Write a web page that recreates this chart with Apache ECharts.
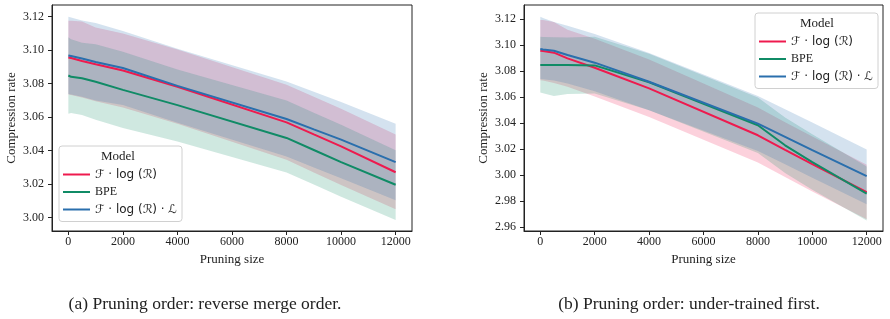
<!DOCTYPE html>
<html>
<head>
<meta charset="utf-8">
<script src="https://cdn.jsdelivr.net/npm/echarts@6/dist/echarts.min.js"></script>
<style>
  html, body { margin: 0; padding: 0; background: #fff; }
  #chart { width: 890px; height: 319px; }
</style>
</head>
<body>
<div id="chart"></div>
<script>
// pruning sizes sampled on both panels
const xs = [0, 100, 500, 1000, 2000, 4000, 8000, 9000, 10000, 12000];
const xTicks = [0, 2000, 4000, 6000, 8000, 10000, 12000];
const yTicksA = [3.00, 3.02, 3.04, 3.06, 3.08, 3.10, 3.12];
const yTicksB = [2.96, 2.98, 3.00, 3.02, 3.04, 3.06, 3.08, 3.10, 3.12];

const names = ['ℱ · log (ℛ)', 'BPE', 'ℱ · log (ℛ) · ℒ'];
const colors = ['#ee1a4e', '#108b66', '#2a6fad'];

// (a) reverse merge order
const aRed = [3.0956, 3.0953, 3.0936, 3.0916, 3.0879, 3.0782, 3.0569, 3.0497, 3.0426, 3.0271];
const aRedLo = [3.0736, 3.0732, 3.0718, 3.0695, 3.0658, 3.0560, 3.0345, 3.0270, 3.0195, 3.0050];
const aRedHi = [3.1176, 3.1176, 3.1172, 3.1135, 3.1100, 3.1004, 3.0793, 3.0722, 3.0650, 3.0496];
const aGreen = [3.0849, 3.0841, 3.0832, 3.0812, 3.0763, 3.0672, 3.0476, 3.0404, 3.0331, 3.0196];
const aGreenLo = [3.0620, 3.0625, 3.0613, 3.0585, 3.0535, 3.0455, 3.0270, 3.0198, 3.0125, 2.9985];
const aGreenHi = [3.1077, 3.1065, 3.1045, 3.1035, 3.0990, 3.0885, 3.0700, 3.0627, 3.0555, 3.0403];
const aBlue = [3.0968, 3.0965, 3.0950, 3.0930, 3.0894, 3.0787, 3.0589, 3.0527, 3.0466, 3.0331];
const aBlueLo = [3.0738, 3.0736, 3.0722, 3.0700, 3.0673, 3.0566, 3.0365, 3.0300, 3.0235, 3.0103];
const aBlueHi = [3.1200, 3.1196, 3.1178, 3.1162, 3.1115, 3.1008, 3.0813, 3.0752, 3.0690, 3.0561];

// (b) under-trained first
const bRed = [3.0958, 3.0956, 3.0943, 3.0899, 3.0827, 3.0668, 3.0307, 3.0195, 3.0085, 2.9870];
const bRedLo = [3.0730, 3.0728, 3.0710, 3.0680, 3.0605, 3.0448, 3.0097, 2.9985, 2.9875, 2.9660];
const bRedHi = [3.1195, 3.1195, 3.1180, 3.1120, 3.1050, 3.0890, 3.0520, 3.0408, 3.0298, 3.0080];
const bGreen = [3.0848, 3.0848, 3.0848, 3.0848, 3.0845, 3.0715, 3.0384, 3.0230, 3.0101, 2.9857];
const bGreenLo = [3.0637, 3.0630, 3.0610, 3.0625, 3.0628, 3.0500, 3.0170, 3.0016, 2.9888, 2.9650];
const bGreenHi = [3.1066, 3.1064, 3.1062, 3.1060, 3.1065, 3.0935, 3.0598, 3.0444, 3.0314, 3.0067];
const bBlue = [3.0971, 3.0968, 3.0958, 3.0925, 3.0866, 3.0719, 3.0397, 3.0295, 3.0192, 2.9993];
const bBlueLo = [3.0740, 3.0738, 3.0728, 3.0705, 3.0646, 3.0499, 3.0185, 3.0083, 2.9980, 2.9775];
const bBlueHi = [3.1220, 3.1210, 3.1180, 3.1150, 3.1086, 3.0940, 3.0610, 3.0508, 3.0405, 3.0197];

const serif = '"Liberation Serif", "DejaVu Serif", serif';
const ink = '#222';

function band(idx, lo, hi, color) {
    return {
        type: 'custom', name: 'band' + idx + color, xAxisIndex: idx, yAxisIndex: idx,
        data: [[xs[0], lo[0]]], silent: true, z: 1, clip: true,
        renderItem: function (params, api) {
            const pts = [];
            for (let i = 0; i < xs.length; i++) pts.push(api.coord([xs[i], hi[i]]));
            for (let i = xs.length - 1; i >= 0; i--) pts.push(api.coord([xs[i], lo[i]]));
            return { type: 'polygon', shape: { points: pts }, style: { fill: color, opacity: 0.2 } };
        }
    };
}

function line(idx, name, vals, color) {
    return {
        type: 'line', name: name, xAxisIndex: idx, yAxisIndex: idx, z: 3,
        data: xs.map((x, i) => [x, vals[i]]), showSymbol: false, color: color,
        lineStyle: { width: 2, color: color }, animation: false
    };
}

function xAxis(idx) {
    return {
        type: 'value', gridIndex: idx, min: -600, max: 12600,
        axisLine: { show: true, onZero: false, lineStyle: { color: ink, width: 1 } },
        axisTick: { show: true, inside: false, customValues: xTicks, length: 4, lineStyle: { color: ink } },
        axisLabel: { customValues: xTicks, fontFamily: serif, fontSize: 12, color: ink, margin: 5,
            formatter: v => String(v) },
        splitLine: { show: false },
        name: 'Pruning size', nameLocation: 'middle', nameGap: 22,
        nameTextStyle: { fontFamily: serif, fontSize: 13, color: ink }
    };
}

function yAxis(idx, min, max, ticks) {
    return {
        type: 'value', gridIndex: idx, min: min, max: max,
        axisLine: { show: true, onZero: false, lineStyle: { color: ink, width: 1 } },
        axisTick: { show: true, inside: false, customValues: ticks, length: 4, lineStyle: { color: ink } },
        axisLabel: { customValues: ticks, fontFamily: serif, fontSize: 12, color: ink, margin: 8,
            formatter: v => v.toFixed(2) },
        splitLine: { show: false },
        name: 'Compression rate', nameLocation: 'middle', nameGap: 34,
        nameTextStyle: { fontFamily: serif, fontSize: 13, color: ink }
    };
}

function legend(left, top) {
    return {
        data: names, orient: 'vertical', left: left, top: top,
        icon: 'rect', itemWidth: 27, itemHeight: 2, itemGap: 5.5,
        padding: [22.5, 5, 6, 4],
        backgroundColor: 'rgba(255,255,255,0.8)', borderColor: '#d0d0d0', borderWidth: 1, borderRadius: 3,
        selectedMode: false,
        textStyle: { fontFamily: serif, fontSize: 12, color: ink,
            rich: { m: { fontFamily: '"DejaVu Sans", sans-serif', fontSize: 12, color: ink } } },
        formatter: n => n === 'BPE' ? n : '{m|' + n + '}'
    };
}

const chart = echarts.init(document.getElementById('chart'));
chart.setOption({
    animation: false,
    grid: [
        { left: 52, top: 5, width: 360, height: 226, show: true, borderColor: ink, borderWidth: 1 },
        { left: 524, top: 5, width: 359, height: 226, show: true, borderColor: ink, borderWidth: 1 }
    ],
    xAxis: [xAxis(0), xAxis(1)],
    yAxis: [yAxis(0, 2.992, 3.127, yTicksA), yAxis(1, 2.957, 3.131, yTicksB)],
    legend: [legend(59, 146), legend(755, 13)],
    graphic: [
        { type: 'text', x: 118, y: 157, z: 100, style: { text: 'Model', fontFamily: serif, fontSize: 13, fill: ink, align: 'center', verticalAlign: 'middle' } },
        { type: 'text', x: 817, y: 24, z: 100, style: { text: 'Model', fontFamily: serif, fontSize: 13, fill: ink, align: 'center', verticalAlign: 'middle' } },
        { type: 'text', x: 205, y: 304, style: { text: '(a) Pruning order: reverse merge order.', fontFamily: serif, fontSize: 17.5, fill: ink, align: 'center', verticalAlign: 'middle' } },
        { type: 'text', x: 689, y: 304, style: { text: '(b) Pruning order: under-trained first.', fontFamily: serif, fontSize: 17.5, fill: ink, align: 'center', verticalAlign: 'middle' } }
    ],
    series: [
        band(0, aRedLo, aRedHi, colors[0]),
        band(0, aGreenLo, aGreenHi, colors[1]),
        band(0, aBlueLo, aBlueHi, colors[2]),
        line(0, names[0], aRed, colors[0]),
        line(0, names[1], aGreen, colors[1]),
        line(0, names[2], aBlue, colors[2]),
        band(1, bRedLo, bRedHi, colors[0]),
        band(1, bGreenLo, bGreenHi, colors[1]),
        band(1, bBlueLo, bBlueHi, colors[2]),
        line(1, names[0], bRed, colors[0]),
        line(1, names[1], bGreen, colors[1]),
        line(1, names[2], bBlue, colors[2])
    ]
});
</script>
</body>
</html>
